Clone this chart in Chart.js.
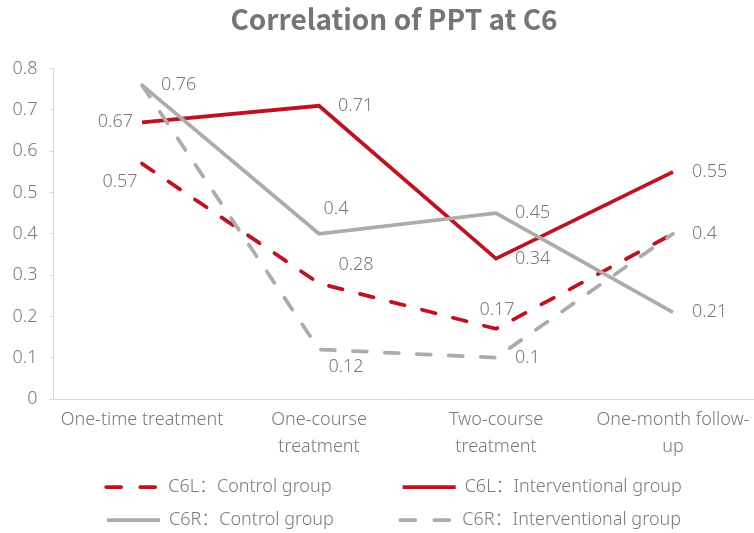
<!DOCTYPE html>
<html>
<head>
<meta charset="utf-8">
<script src="https://cdn.jsdelivr.net/npm/chart.js@4"></script>
<style>
  html, body { margin: 0; padding: 0; background: #fff; overflow: hidden; }
  #wrap { width: 754px; height: 533px; overflow: hidden; }
</style>
</head>
<body>
<div id="wrap"><canvas id="chart" width="780" height="539"></canvas></div>
<script>
// data
const categories = [['One-time treatment'], ['One-course', 'treatment'], ['Two-course', 'treatment'], ['One-month follow-', 'up']];
const seriesNames = ['C6L：Control group', 'C6L：Interventional group', 'C6R：Control group', 'C6R：Interventional group'];
const c6lControl = [0.57, 0.28, 0.17, 0.4];
const c6lInterventional = [0.67, 0.71, 0.34, 0.55];
const c6rControl = [0.76, 0.4, 0.45, 0.21];
const c6rInterventional = [0.76, 0.12, 0.1, 0.4];
const yMin = 0, yMax = 0.8, yStep = 0.1;

// where each value label sits: 'r' right of point, 'l' left, [dx, dy] centred offset, null = hidden (duplicate)
const labelPlace = [
    [[-22, 18], [37, -18], [1, -19], 'r'],
    ['l', 'r', 'r', 'r'],
    ['r', [17, -25], 'r', 'r'],
    [null, [27, 17], 'r', null]
];

const FONT = '"Noto Sans", "Noto Sans CJK SC", sans-serif';
const TITLE_FONT = '"Noto Sans CJK SC", "Noto Sans", sans-serif';
const TEXT = '#7a7a7a';
const RED = '#c0111f';
const GREY = '#aeabab';
const PAD_LEFT = 8;

Chart.defaults.font.family = FONT;
Chart.defaults.font.size = 18;
Chart.defaults.font.weight = 300;
Chart.defaults.color = TEXT;

const pointLabels = {
    id: 'pointLabels',
    afterDatasetsDraw(chart) {
        const ctx = chart.ctx;
        ctx.save();
        ctx.font = '300 18px ' + FONT;
        ctx.fillStyle = TEXT;
        ctx.textBaseline = 'middle';
        chart.data.datasets.forEach((ds, i) => {
            const meta = chart.getDatasetMeta(i);
            meta.data.forEach((pt, j) => {
                const place = labelPlace[i][j];
                if (!place) return;
                const txt = String(ds.data[j]);
                if (place === 'r') {
                    ctx.textAlign = 'left';
                    ctx.fillText(txt, pt.x + 19, pt.y);
                } else if (place === 'l') {
                    ctx.textAlign = 'right';
                    ctx.fillText(txt, pt.x - 9, pt.y);
                } else {
                    ctx.textAlign = 'center';
                    ctx.fillText(txt, pt.x + place[0], pt.y + place[1]);
                }
            });
        });
        ctx.restore();
    }
};

const lineSet = (label, data, color, dashed, order) => ({
    label: label,
    data: data,
    borderColor: color,
    backgroundColor: color,
    borderWidth: 3.75,
    borderDash: dashed ? [14, 18] : [],
    borderCapStyle: dashed ? 'round' : 'butt',
    pointRadius: 0,
    pointHoverRadius: 0,
    tension: 0,
    fill: false,
    order: order // later series painted on top
});

new Chart(document.getElementById('chart'), {
    type: 'line',
    data: {
        labels: categories,
        datasets: [
            lineSet(seriesNames[0], c6lControl, RED, true, 4),
            lineSet(seriesNames[1], c6lInterventional, RED, false, 3),
            lineSet(seriesNames[2], c6rControl, GREY, false, 2),
            lineSet(seriesNames[3], c6rInterventional, GREY, true, 1)
        ]
    },
    options: {
        responsive: false,
        animation: false,
        layout: { padding: { left: PAD_LEFT, right: 0, top: 0, bottom: 0 } },
        plugins: {
            title: {
                display: true,
                text: 'Correlation of PPT at C6',
                color: '#757575',
                font: { family: TITLE_FONT, size: 28, weight: 'bold', lineHeight: 1.2 },
                padding: { top: 3, bottom: 32 }
            },
            legend: {
                position: 'bottom',
                labels: {
                    usePointStyle: true,
                    pointStyle: 'line',
                    pointStyleWidth: 53,
                    padding: 15,
                    color: TEXT,
                    font: { size: 18, weight: 300 },
                    sort: (a, b) => a.datasetIndex - b.datasetIndex,
                    generateLabels: (chart) => {
                        const items = Chart.defaults.plugins.legend.labels.generateLabels(chart);
                        const ctx = chart.ctx;
                        ctx.save();
                        ctx.font = '300 18px ' + FONT;
                        items.forEach(it => {
                            const ds = chart.data.datasets[it.datasetIndex];
                            it.lineDash = ds.borderDash.length ? [15, 19] : [];
                            it.lineCap = ds.borderCapStyle;
                            // pad left-column entries so the two columns line up
                            if (it.datasetIndex % 2 === 0) {
                                while (ctx.measureText(it.text).width < 216) it.text += ' ';
                            }
                        });
                        ctx.restore();
                        return items;
                    }
                }
            },
            tooltip: { enabled: false }
        },
        scales: {
            x: {
                offset: true,
                grid: { display: false, drawTicks: false },
                border: { display: true, color: '#d9d9d9', width: 1 },
                ticks: {
                    autoSkip: false,
                    maxRotation: 0,
                    padding: 8,
                    color: TEXT,
                    font: { size: 18, lineHeight: 1.48 }
                },
                afterFit: (scale) => { scale.height = 64; }
            },
            y: {
                min: yMin,
                max: yMax,
                ticks: {
                    stepSize: yStep,
                    padding: 12,
                    color: TEXT,
                    callback: (v) => String(+v.toFixed(1))
                },
                grid: { drawOnChartArea: false, drawTicks: true, tickLength: 4, color: '#d9d9d9' },
                border: { display: true, color: '#d9d9d9', width: 1 },
                afterFit: (scale) => { scale.width = 53.5 - PAD_LEFT; }
            },
            // empty right-hand spacer so title and legend centre where the reference has them
            yPad: {
                type: 'linear',
                position: 'right',
                grid: { display: false },
                border: { display: false },
                ticks: { display: false },
                afterFit: (scale) => { scale.width = 18.5; }
            }
        }
    },
    plugins: [pointLabels]
});
</script>
</body>
</html>
